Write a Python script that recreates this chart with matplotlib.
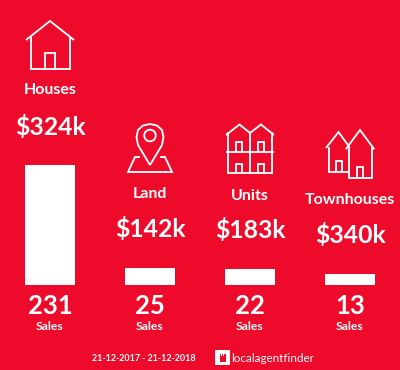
import matplotlib
matplotlib.use("Agg")
import matplotlib.pyplot as plt
from matplotlib.patches import Circle, Rectangle

# values
categories = ["Houses", "Land", "Units", "Townhouses"]
prices = ["$324k", "$142k", "$183k", "$340k"]
sales = [231, 25, 22, 13]
bar_heights = [120, 17, 16, 11]  # bars are not to scale with sales in the original
date_range = "21-12-2017 - 21-12-2018"
brand = "localagentfinder"

red = "#EE0A2B"
white = "#FFFFFF"
plt.rcParams["font.family"] = ["Lato", "DejaVu Sans"]

fig = plt.figure(figsize=(4, 3.7), dpi=100, facecolor=red)
ax = fig.add_axes([0, 0, 1, 1])
ax.set_xlim(0, 400)
ax.set_ylim(370, 0)
ax.axis("off")

centers = [50, 150, 250, 350]
label_y = [90.5, 193.5, 195.5, 200.5]
price_y = [127, 229, 230, 235]


def line(xs, ys, lw=1.35):
    ax.plot(xs, ys, color=white, lw=lw, solid_joinstyle="miter", solid_capstyle="butt")


# bars, labels and numbers
ax.bar(centers, bar_heights, width=50, bottom=[285 - h for h in bar_heights], color=white)
for i in range(4):
    x = centers[i]
    ax.text(x, label_y[i], categories[i], color=white, fontsize=11.5, fontweight="bold", ha="center", va="center")
    ax.text(x, price_y[i], prices[i], color=white, fontsize=17.8, fontweight="bold", ha="center", va="center")
    ax.text(x, 306, str(sales[i]), color=white, fontsize=18.5, fontweight="bold", ha="center", va="center")
    ax.text(x, 326, "Sales", color=white, fontsize=8.7, fontweight="bold", ha="center", va="center")

# house icon
line([26, 50, 74], [40, 21, 40])
line([31, 31, 70, 70], [37, 69, 69, 37])
line([45, 45, 55, 55], [69, 53, 53, 69])

# land icon
ax.add_patch(Circle((150, 135.5), 5.8, fill=False, ec=white, lw=1.35))
pin = [(150, 165), (144, 155), (138, 145), (136.5, 137), (138, 130), (143, 125.5), (150, 124),
       (157, 125.5), (162, 130), (163.5, 137), (162, 145), (156, 155), (150, 165)]
line([p[0] for p in pin], [p[1] for p in pin])
line([140, 135, 128, 172, 165, 160], [157, 157, 172, 172, 157, 157])

# units icon
line([226, 239.5, 250, 261, 274], [135, 124.5, 133, 124.5, 135])
line([228, 228, 272, 272], [132, 172.5, 172.5, 132])
line([250, 250], [133, 172.5])
line([226, 274], [152, 152])
for wx in [236, 257.5]:
    line([wx, wx, wx + 6, wx + 6], [151.5, 142, 142, 151.5])
    line([wx, wx, wx + 6, wx + 6], [172, 163.5, 163.5, 172])

# townhouses icon
line([326, 338.5, 348], [148, 132, 145])
line([328.7, 328.7, 347.7], [147, 171.7, 171.7])
line([335.7, 335.7, 342.3, 342.3], [171.7, 161, 161, 171.7])
line([345.7, 360, 374.3], [149.3, 130, 149.3])
line([349, 349, 371.7, 371.7], [146, 177.7, 177.7, 146])
line([356.7, 356.7, 363.3, 363.3], [177.7, 166.7, 166.7, 177.7])

# footer
ax.text(144, 358.5, date_range, color=white, fontsize=6.4, fontweight="bold", ha="center", va="center")
ax.add_patch(Rectangle((215, 350), 15, 15, fc=white, ec="none"))
ax.add_patch(Rectangle((219.5, 356), 6, 5.5, fc=red, ec="none"))
for tx in [219.5, 221.8, 224.1]:
    ax.add_patch(Rectangle((tx, 354), 1.4, 2, fc=red, ec="none"))
ax.text(231.5, 358, brand, color=white, fontsize=8.4, ha="left", va="center")

fig.savefig("out.png", dpi=100, facecolor=red)
